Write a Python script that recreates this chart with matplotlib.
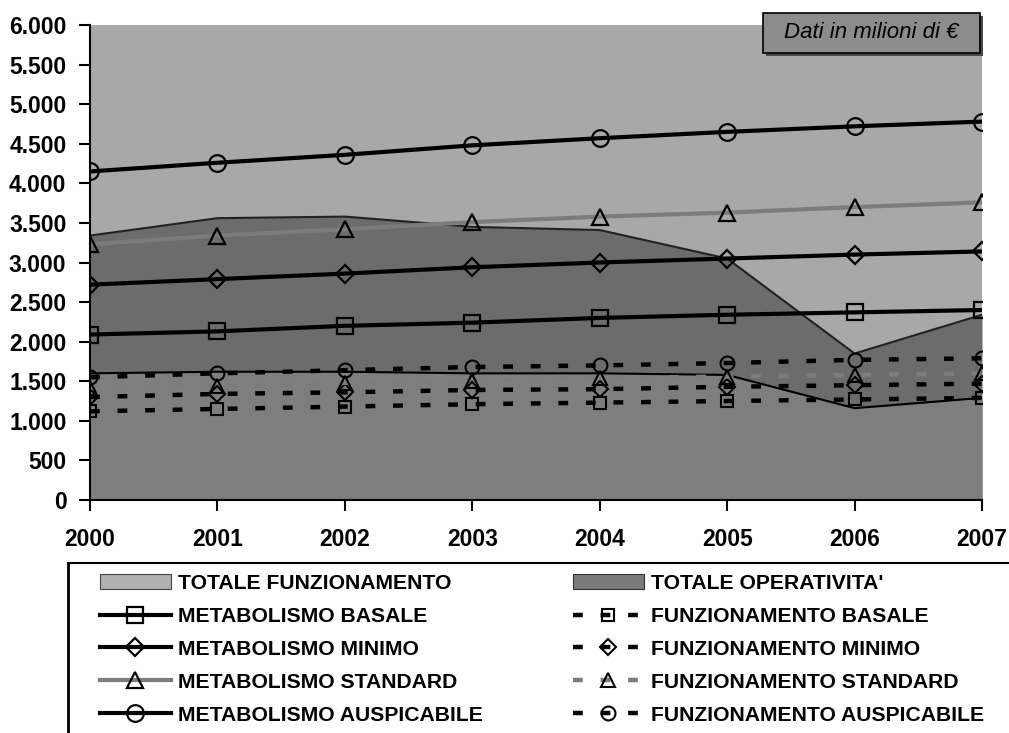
import matplotlib
matplotlib.use("Agg")
import matplotlib.pyplot as plt
from matplotlib.ticker import FuncFormatter, MultipleLocator
from matplotlib.lines import Line2D
from matplotlib.patches import Patch, Rectangle

plt.rcParams['font.family'] = ['Liberation Sans', 'DejaVu Sans']

years = [2000, 2001, 2002, 2003, 2004, 2005, 2006, 2007]

# aree (milioni di euro)
totale_operativita = [3340, 3560, 3580, 3450, 3410, 3050, 1850, 2340]
totale_funzionamento = [1600, 1620, 1620, 1600, 1600, 1580, 1160, 1290]

# metabolismo
met_basale = [2090, 2130, 2200, 2240, 2300, 2340, 2370, 2400]
met_minimo = [2720, 2790, 2860, 2940, 3000, 3050, 3100, 3140]
met_standard = [3230, 3340, 3420, 3510, 3580, 3630, 3700, 3760]
met_auspicabile = [4150, 4260, 4360, 4480, 4570, 4650, 4720, 4780]

# funzionamento
funz_basale = [1120, 1150, 1180, 1210, 1230, 1250, 1270, 1290]
funz_minimo = [1300, 1340, 1360, 1390, 1400, 1430, 1450, 1470]
funz_standard = [1420, 1440, 1480, 1500, 1540, 1560, 1580, 1600]
funz_auspicabile = [1550, 1600, 1640, 1680, 1700, 1730, 1770, 1790]

bg_col = '#a8a8a8'
oper_col = '#6c6c6c'
funz_col = '#7e7e7e'
grey_line = '#7c7c7c'
dash_pat = (2.2, 4.0)

fig = plt.figure(figsize=(10.09, 7.33), dpi=100)
ax = fig.add_axes([90 / 1009, 1 - 500 / 733, 892 / 1009, 475 / 733])
ax.set_facecolor(bg_col)

ax.fill_between(years, totale_operativita, color=oper_col, lw=0, zorder=1)
ax.plot(years, totale_operativita, color='#222222', lw=1.5, zorder=1.5)
ax.fill_between(years, totale_funzionamento, color=funz_col, lw=0, zorder=2)
ax.plot(years, totale_funzionamento, color='black', lw=1.5, zorder=2.5)

solid = dict(lw=3, markerfacecolor='none', markeredgewidth=1.6, zorder=5)
ax.plot(years, met_basale, color='black', marker='s', ms=11, markeredgecolor='black', **solid)
ax.plot(years, met_minimo, color='black', marker='D', ms=9, markeredgecolor='black', **solid)
ax.plot(years, met_standard, color=grey_line, marker='^', ms=12, markeredgecolor='black', **solid)
ax.plot(years, met_auspicabile, color='black', marker='o', ms=12, markeredgecolor='black', **solid)

dash = dict(lw=3.2, dashes=dash_pat, markerfacecolor='none', markeredgewidth=1.5, zorder=4)
ax.plot(years, funz_basale, color='black', marker='s', ms=9, markeredgecolor='black', **dash)
ax.plot(years, funz_minimo, color='black', marker='D', ms=8, markeredgecolor='black', **dash)
ax.plot(years, funz_standard, color=grey_line, marker='^', ms=10, markeredgecolor='black', **dash)
ax.plot(years, funz_auspicabile, color='black', marker='o', ms=10, markeredgecolor='black', **dash)

ax.set_xlim(years[0], years[-1])
ax.set_ylim(0, 6000)
ax.set_xticks(years)
ax.set_xticklabels([str(y) for y in years])
ax.yaxis.set_major_locator(MultipleLocator(500))
ax.yaxis.set_major_formatter(FuncFormatter(lambda v, _: f"{int(v):,}".replace(",", ".")))
ax.tick_params(axis='both', direction='out', length=8, width=1.5, labelsize=16.5)
ax.tick_params(axis='y', pad=9)
ax.tick_params(axis='x', pad=12)
for lab in ax.get_xticklabels() + ax.get_yticklabels():
    lab.set_fontweight('bold')
for s in ['top', 'right']:
    ax.spines[s].set_visible(False)
for s in ['left', 'bottom']:
    ax.spines[s].set_linewidth(1.5)
ax.spines['left'].set_zorder(6)

# riquadro titolo
fig.add_artist(Rectangle((766 / 1009, 1 - 56 / 733), 217 / 1009, 40 / 733,
                         transform=fig.transFigure, facecolor='#4a4a4a', lw=0, zorder=7))
fig.add_artist(Rectangle((763 / 1009, 1 - 53 / 733), 217 / 1009, 40 / 733,
                         transform=fig.transFigure, facecolor='#8c8c8c', edgecolor='black',
                         lw=1.2, zorder=8))
fig.text(871 / 1009, 1 - 33 / 733, "Dati in milioni di €", ha='center', va='center',
         fontsize=16, style='italic', color='black', zorder=9)

# legenda
left_h = [
    Patch(facecolor='#b0b0b0', edgecolor='#444444', lw=0.8),
    Line2D([], [], color='black', lw=3, marker='s', ms=11, mfc='none', mec='black', mew=1.6),
    Line2D([], [], color='black', lw=3, marker='D', ms=9, mfc='none', mec='black', mew=1.6),
    Line2D([], [], color=grey_line, lw=3, marker='^', ms=12, mfc='none', mec='black', mew=1.6),
    Line2D([], [], color='black', lw=3, marker='o', ms=12, mfc='none', mec='black', mew=1.6),
]
left_l = ['TOTALE FUNZIONAMENTO', 'METABOLISMO BASALE', 'METABOLISMO MINIMO',
          'METABOLISMO STANDARD', 'METABOLISMO AUSPICABILE']
right_h = [
    Patch(facecolor='#7a7a7a', edgecolor='#333333', lw=0.8),
    Line2D([], [], color='black', lw=3.2, dashes=dash_pat, marker='s', ms=9, mfc='none', mec='black', mew=1.5),
    Line2D([], [], color='black', lw=3.2, dashes=dash_pat, marker='D', ms=8, mfc='none', mec='black', mew=1.5),
    Line2D([], [], color=grey_line, lw=3.2, dashes=dash_pat, marker='^', ms=10, mfc='none', mec='black', mew=1.5),
    Line2D([], [], color='black', lw=3.2, dashes=dash_pat, marker='o', ms=10, mfc='none', mec='black', mew=1.5),
]
right_l = ["TOTALE OPERATIVITA'", 'FUNZIONAMENTO BASALE', 'FUNZIONAMENTO MINIMO',
           'FUNZIONAMENTO STANDARD', 'FUNZIONAMENTO AUSPICABILE']

leg_kw = dict(loc='upper left', bbox_transform=fig.transFigure, frameon=False,
              prop={'size': 15.2, 'weight': 'bold'}, handlelength=3.35, handletextpad=0.33,
              labelspacing=0.66, borderaxespad=0, borderpad=0, handleheight=0.7)
leg1 = fig.legend(left_h, left_l, bbox_to_anchor=(100 / 1009, 1 - 574 / 733), **leg_kw)
leg2 = fig.legend(right_h, right_l, bbox_to_anchor=(573 / 1009, 1 - 574 / 733), **leg_kw)

fig.add_artist(Line2D([68 / 1009, 68 / 1009], [1 - 563 / 733, 0], transform=fig.transFigure,
                      color='black', lw=2))
fig.add_artist(Line2D([68 / 1009, 1], [1 - 563 / 733, 1 - 563 / 733], transform=fig.transFigure,
                      color='black', lw=1.5))

fig.savefig('out.png', dpi=100)
